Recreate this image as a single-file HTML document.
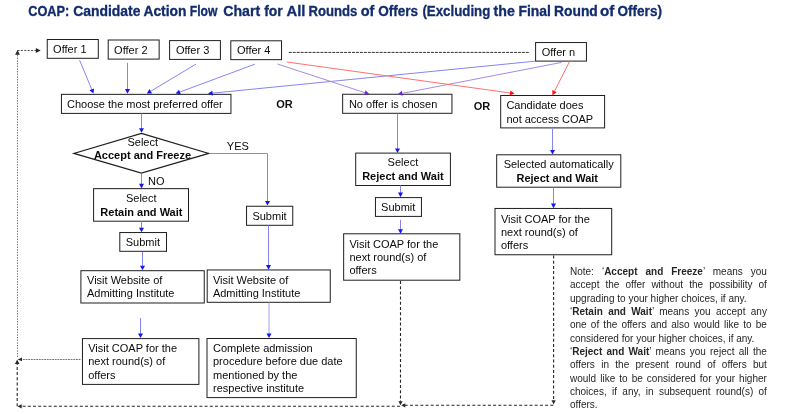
<!DOCTYPE html>
<html><head><meta charset="utf-8"><style>
html,body{margin:0;padding:0;background:#fff;}
body{width:800px;height:414px;overflow:hidden;position:relative;font-family:"Liberation Sans", sans-serif;}
svg{position:absolute;left:0;top:0;will-change:transform;}
svg text{font-family:"Liberation Sans", sans-serif;}
.nl{will-change:transform;position:absolute;left:570.4px;width:196.9px;font-size:10px;line-height:0;height:0;color:#262626;white-space:nowrap;}
.nl.j{text-align:justify;text-align-last:justify;white-space:normal;}
</style></head><body>
<svg width="800" height="414" viewBox="0 0 800 414">
<rect x="47.25" y="39.50" width="51.05" height="18.80" fill="#fff" stroke="#1e1e1e" stroke-width="1.0"/>
<text x="53.10" y="52.90" font-size="11" fill="#0a0a0a">Offer 1</text>
<rect x="108.20" y="40.00" width="50.95" height="19.10" fill="#fff" stroke="#1e1e1e" stroke-width="1.0"/>
<text x="114.10" y="54.05" font-size="11" fill="#0a0a0a">Offer 2</text>
<rect x="169.60" y="40.60" width="50.80" height="18.80" fill="#fff" stroke="#1e1e1e" stroke-width="1.0"/>
<text x="175.90" y="54.20" font-size="11" fill="#0a0a0a">Offer 3</text>
<rect x="230.80" y="40.80" width="50.75" height="18.85" fill="#fff" stroke="#1e1e1e" stroke-width="1.0"/>
<text x="237.00" y="54.40" font-size="11" fill="#0a0a0a">Offer 4</text>
<rect x="535.60" y="42.55" width="50.85" height="18.55" fill="#fff" stroke="#1e1e1e" stroke-width="1.0"/>
<text x="541.70" y="56.05" font-size="11" fill="#0a0a0a">Offer n</text>
<rect x="61.45" y="94.35" width="169.50" height="19.05" fill="#fff" stroke="#1e1e1e" stroke-width="1.0"/>
<text x="67.00" y="108.20" font-size="11" fill="#0a0a0a">Choose the most preferred offer</text>
<rect x="342.65" y="94.25" width="109.30" height="19.05" fill="#fff" stroke="#1e1e1e" stroke-width="1.0"/>
<text x="348.90" y="108.10" font-size="11" fill="#0a0a0a">No offer is chosen</text>
<rect x="500.70" y="95.50" width="103.90" height="32.40" fill="#fff" stroke="#1e1e1e" stroke-width="1.0"/>
<text x="506.40" y="109.00" font-size="11" fill="#0a0a0a">Candidate does</text>
<text x="506.40" y="122.60" font-size="11" fill="#0a0a0a">not access COAP</text>
<path d="M141.4,133.4 L208.8,153.4 L141.4,173.1 L73.8,153.4Z" fill="#fff" stroke="#1e1e1e" stroke-width="1.1"/>
<text x="142.75" y="146.30" font-size="11" text-anchor="middle" fill="#0a0a0a">Select</text>
<text x="142.50" y="159.30" font-size="11" font-weight="bold" text-anchor="middle" fill="#0a0a0a">Accept and Freeze</text>
<text x="226.80" y="150.30" font-size="11" fill="#0a0a0a">YES</text>
<text x="148.00" y="185.30" font-size="11" fill="#0a0a0a">NO</text>
<rect x="93.60" y="188.65" width="94.90" height="32.55" fill="#fff" stroke="#1e1e1e" stroke-width="1.0"/>
<text x="141.25" y="202.10" font-size="11" text-anchor="middle" fill="#0a0a0a">Select</text>
<text x="141.40" y="215.80" font-size="11" font-weight="bold" text-anchor="middle" fill="#0a0a0a">Retain and Wait</text>
<rect x="119.80" y="232.55" width="46.70" height="18.75" fill="#fff" stroke="#1e1e1e" stroke-width="1.0"/>
<text x="125.75" y="245.80" font-size="11" fill="#0a0a0a">Submit</text>
<rect x="246.55" y="206.25" width="46.20" height="19.05" fill="#fff" stroke="#1e1e1e" stroke-width="1.0"/>
<text x="252.40" y="220.00" font-size="11" fill="#0a0a0a">Submit</text>
<rect x="80.90" y="270.70" width="123.35" height="32.30" fill="#fff" stroke="#1e1e1e" stroke-width="1.0"/>
<text x="87.00" y="284.20" font-size="11" fill="#0a0a0a">Visit Website of</text>
<text x="87.00" y="297.10" font-size="11" fill="#0a0a0a">Admitting Institute</text>
<rect x="207.20" y="269.95" width="123.05" height="32.35" fill="#fff" stroke="#1e1e1e" stroke-width="1.0"/>
<text x="212.90" y="283.80" font-size="11" fill="#0a0a0a">Visit Website of</text>
<text x="212.90" y="296.80" font-size="11" fill="#0a0a0a">Admitting Institute</text>
<rect x="82.45" y="338.60" width="116.45" height="45.80" fill="#fff" stroke="#1e1e1e" stroke-width="1.0"/>
<text x="88.20" y="352.20" font-size="11" fill="#0a0a0a">Visit COAP for the</text>
<text x="88.20" y="365.40" font-size="11" fill="#0a0a0a">next round(s) of</text>
<text x="88.20" y="378.60" font-size="11" fill="#0a0a0a">offers</text>
<rect x="207.00" y="338.50" width="149.25" height="59.10" fill="#fff" stroke="#1e1e1e" stroke-width="1.0"/>
<text x="213.00" y="351.90" font-size="11" fill="#0a0a0a">Complete admission</text>
<text x="213.00" y="365.25" font-size="11" fill="#0a0a0a">procedure before due date</text>
<text x="213.00" y="378.60" font-size="11" fill="#0a0a0a">mentioned by the</text>
<text x="213.00" y="391.95" font-size="11" fill="#0a0a0a">respective institute</text>
<rect x="355.70" y="153.10" width="94.70" height="32.40" fill="#fff" stroke="#1e1e1e" stroke-width="1.0"/>
<text x="402.90" y="166.30" font-size="11" text-anchor="middle" fill="#0a0a0a">Select</text>
<text x="402.90" y="179.60" font-size="11" font-weight="bold" text-anchor="middle" fill="#0a0a0a">Reject and Wait</text>
<rect x="375.45" y="197.60" width="46.00" height="18.80" fill="#fff" stroke="#1e1e1e" stroke-width="1.0"/>
<text x="381.10" y="210.80" font-size="11" fill="#0a0a0a">Submit</text>
<rect x="343.65" y="233.80" width="116.20" height="46.40" fill="#fff" stroke="#1e1e1e" stroke-width="1.0"/>
<text x="349.40" y="248.10" font-size="11" fill="#0a0a0a">Visit COAP for the</text>
<text x="349.40" y="261.20" font-size="11" fill="#0a0a0a">next round(s) of</text>
<text x="349.40" y="274.00" font-size="11" fill="#0a0a0a">offers</text>
<rect x="496.70" y="154.80" width="124.10" height="32.40" fill="#fff" stroke="#1e1e1e" stroke-width="1.0"/>
<text x="558.70" y="168.20" font-size="11" text-anchor="middle" fill="#0a0a0a">Selected automatically</text>
<text x="557.25" y="181.50" font-size="11" font-weight="bold" text-anchor="middle" fill="#0a0a0a">Reject and Wait</text>
<rect x="495.00" y="208.45" width="116.70" height="46.30" fill="#fff" stroke="#1e1e1e" stroke-width="1.0"/>
<text x="500.90" y="222.60" font-size="11" fill="#0a0a0a">Visit COAP for the</text>
<text x="500.90" y="235.80" font-size="11" fill="#0a0a0a">next round(s) of</text>
<text x="500.90" y="249.00" font-size="11" fill="#0a0a0a">offers</text>
<text x="276.20" y="107.90" font-size="11" font-weight="bold" fill="#111">OR</text>
<text x="473.80" y="110.00" font-size="11" font-weight="bold" fill="#111">OR</text>
<path d="M79.60,60.25 L92.08,90.20" fill="none" stroke="#8585f0" stroke-width="1.0"/>
<path d="M93.50,93.60 L89.42,90.32 L94.04,88.39Z" fill="#1515ee"/>
<path d="M127.50,62.90 L127.50,90.02" fill="none" stroke="#8585f0" stroke-width="1.0"/>
<path d="M127.50,93.70 L125.00,89.10 L130.00,89.10Z" fill="#1515ee"/>
<path d="M196.00,64.10 L149.96,91.71" fill="none" stroke="#8585f0" stroke-width="1.0"/>
<path d="M146.80,93.60 L149.46,89.09 L152.03,93.38Z" fill="#1515ee"/>
<path d="M254.80,64.20 L179.05,92.32" fill="none" stroke="#8585f0" stroke-width="1.0"/>
<path d="M175.60,93.60 L179.04,89.66 L180.78,94.34Z" fill="#1515ee"/>
<path d="M535.00,61.20 L211.66,93.24" fill="none" stroke="#8585f0" stroke-width="1.0"/>
<path d="M208.00,93.60 L212.33,90.66 L212.82,95.63Z" fill="#1515ee"/>
<path d="M277.50,64.00 L365.70,92.95" fill="none" stroke="#a58ae6" stroke-width="1.0"/>
<path d="M369.20,94.10 L364.05,95.04 L365.61,90.29Z" fill="#6a2cc8"/>
<path d="M561.60,62.40 L401.41,93.50" fill="none" stroke="#a58ae6" stroke-width="1.0"/>
<path d="M397.80,94.20 L401.84,90.87 L402.79,95.78Z" fill="#6a2cc8"/>
<path d="M286.80,62.00 L510.95,93.09" fill="none" stroke="#ff7070" stroke-width="1.0"/>
<path d="M514.60,93.60 L509.70,95.44 L510.39,90.49Z" fill="#f01818"/>
<path d="M569.50,61.60 L554.07,92.02" fill="none" stroke="#ff7070" stroke-width="1.0"/>
<path d="M552.40,95.30 L552.25,90.07 L556.71,92.33Z" fill="#f01818"/>
<path d="M141.50,113.50 L141.50,129.12" fill="none" stroke="#8585f0" stroke-width="1.0"/>
<path d="M141.50,132.80 L139.00,128.20 L144.00,128.20Z" fill="#1515ee"/>
<path d="M141.50,173.70 L141.50,184.72" fill="none" stroke="#8585f0" stroke-width="1.0"/>
<path d="M141.50,188.40 L139.00,183.80 L144.00,183.80Z" fill="#1515ee"/>
<path d="M209.50,153.50 L267.50,153.50 L267.50,201.92" fill="none" stroke="#8585f0" stroke-width="1.0"/>
<path d="M267.50,205.60 L265.00,201.00 L270.00,201.00Z" fill="#1515ee"/>
<path d="M141.50,221.40 L141.50,228.62" fill="none" stroke="#8585f0" stroke-width="1.0"/>
<path d="M141.50,232.30 L139.00,227.70 L144.00,227.70Z" fill="#1515ee"/>
<path d="M142.50,252.00 L142.50,266.62" fill="none" stroke="#8585f0" stroke-width="1.0"/>
<path d="M142.50,270.30 L140.00,265.70 L145.00,265.70Z" fill="#1515ee"/>
<path d="M268.50,225.50 L268.50,266.02" fill="none" stroke="#8585f0" stroke-width="1.0"/>
<path d="M268.50,269.70 L266.00,265.10 L271.00,265.10Z" fill="#1515ee"/>
<path d="M140.50,318.00 L140.50,334.32" fill="none" stroke="#8585f0" stroke-width="1.0"/>
<path d="M140.50,338.00 L138.00,333.40 L143.00,333.40Z" fill="#1515ee"/>
<path d="M269.00,302.50 L269.00,334.32" fill="none" stroke="#a0a0f0" stroke-width="1.0"/>
<path d="M269.00,338.00 L266.50,333.40 L271.50,333.40Z" fill="#1515ee"/>
<path d="M397.50,113.50 L397.50,149.32" fill="none" stroke="#8585f0" stroke-width="1.0"/>
<path d="M397.50,153.00 L395.00,148.40 L400.00,148.40Z" fill="#1515ee"/>
<path d="M400.50,185.40 L400.50,193.52" fill="none" stroke="#8585f0" stroke-width="1.0"/>
<path d="M400.50,197.20 L398.00,192.60 L403.00,192.60Z" fill="#1515ee"/>
<path d="M400.50,219.80 L400.50,230.12" fill="none" stroke="#8585f0" stroke-width="1.0"/>
<path d="M400.50,233.80 L398.00,229.20 L403.00,229.20Z" fill="#1515ee"/>
<path d="M552.50,128.40 L552.50,150.92" fill="none" stroke="#8585f0" stroke-width="1.0"/>
<path d="M552.50,154.60 L550.00,150.00 L555.00,150.00Z" fill="#1515ee"/>
<path d="M553.50,187.40 L553.50,204.52" fill="none" stroke="#8585f0" stroke-width="1.0"/>
<path d="M553.50,208.20 L551.00,203.60 L556.00,203.60Z" fill="#1515ee"/>
<path d="M288.80,52.40 L528.90,52.40" fill="none" stroke="#333" stroke-width="1.0" stroke-dasharray="3 0.95"/>
<path d="M80.50,359.50 L21.00,359.50" fill="none" stroke="#666" stroke-width="0.9" stroke-dasharray="1.9 0.75"/>
<path d="M17.70,359.40 L22.00,357.60 L22.00,361.20Z" fill="#262626"/>
<path d="M17.50,357.00 L17.50,54.00" fill="none" stroke="#666" stroke-width="0.9" stroke-dasharray="1.4 1.26"/>
<path d="M17.50,50.00 L19.90,54.80 L15.10,54.80Z" fill="#262626"/>
<path d="M17.50,50.50 L36.00,50.50" fill="none" stroke="#333" stroke-width="0.9" stroke-dasharray="2 1.4"/>
<path d="M40.70,50.50 L35.80,52.90 L35.80,48.10Z" fill="#262626"/>
<path d="M553.60,255.50 L553.60,400.00" fill="none" stroke="#262626" stroke-width="1.1" stroke-dasharray="3 2.2"/>
<path d="M553.60,404.50 L551.50,400.30 L555.70,400.30Z" fill="#262626"/>
<path d="M400.50,281.00 L400.50,401.50" fill="none" stroke="#262626" stroke-width="1.1" stroke-dasharray="3 2.2"/>
<path d="M400.50,405.20 L398.40,401.20 L402.60,401.20Z" fill="#262626"/>
<path d="M553.30,405.30 L405.00,405.30" fill="none" stroke="#262626" stroke-width="1.1" stroke-dasharray="3 2.2"/>
<path d="M401.20,405.30 L405.30,403.20 L405.30,407.40Z" fill="#262626"/>
<path d="M400.00,406.30 L21.50,406.30" fill="none" stroke="#262626" stroke-width="1.1" stroke-dasharray="3 2.2"/>
<path d="M17.50,406.30 L21.70,404.20 L21.70,408.40Z" fill="#262626"/>
<path d="M17.20,406.30 L17.20,364.00" fill="none" stroke="#262626" stroke-width="1.1" stroke-dasharray="3 2.2"/>
<path d="M17.20,359.60 L19.45,364.10 L14.95,364.10Z" fill="#262626"/>
<text x="28.23" y="16" font-size="14" textLength="41.09" lengthAdjust="spacingAndGlyphs" font-weight="bold" fill="#122c6c" stroke="#122c6c" stroke-width="0.3">COAP:</text>
<text x="73.18" y="16" font-size="14" textLength="67.29" lengthAdjust="spacingAndGlyphs" font-weight="bold" fill="#122c6c" stroke="#122c6c" stroke-width="0.3">Candidate</text>
<text x="143.40" y="16" font-size="14" textLength="43.06" lengthAdjust="spacingAndGlyphs" font-weight="bold" fill="#122c6c" stroke="#122c6c" stroke-width="0.3">Action</text>
<text x="189.78" y="16" font-size="14" textLength="27.69" lengthAdjust="spacingAndGlyphs" font-weight="bold" fill="#122c6c" stroke="#122c6c" stroke-width="0.3">Flow</text>
<text x="223.17" y="16" font-size="14" textLength="37.00" lengthAdjust="spacingAndGlyphs" font-weight="bold" fill="#122c6c" stroke="#122c6c" stroke-width="0.3">Chart</text>
<text x="264.16" y="16" font-size="14" textLength="18.55" lengthAdjust="spacingAndGlyphs" font-weight="bold" fill="#122c6c" stroke="#122c6c" stroke-width="0.3">for</text>
<text x="286.53" y="16" font-size="14" textLength="18.92" lengthAdjust="spacingAndGlyphs" font-weight="bold" fill="#122c6c" stroke="#122c6c" stroke-width="0.3">All</text>
<text x="308.52" y="16" font-size="14" textLength="48.92" lengthAdjust="spacingAndGlyphs" font-weight="bold" fill="#122c6c" stroke="#122c6c" stroke-width="0.3">Rounds</text>
<text x="360.68" y="16" font-size="14" textLength="13.69" lengthAdjust="spacingAndGlyphs" font-weight="bold" fill="#122c6c" stroke="#122c6c" stroke-width="0.3">of</text>
<text x="378.20" y="16" font-size="14" textLength="39.86" lengthAdjust="spacingAndGlyphs" font-weight="bold" fill="#122c6c" stroke="#122c6c" stroke-width="0.3">Offers</text>
<text x="422.44" y="16" font-size="14" textLength="67.85" lengthAdjust="spacingAndGlyphs" font-weight="bold" fill="#122c6c" stroke="#122c6c" stroke-width="0.3">(Excluding</text>
<text x="493.58" y="16" font-size="14" textLength="21.31" lengthAdjust="spacingAndGlyphs" font-weight="bold" fill="#122c6c" stroke="#122c6c" stroke-width="0.3">the</text>
<text x="518.46" y="16" font-size="14" textLength="32.52" lengthAdjust="spacingAndGlyphs" font-weight="bold" fill="#122c6c" stroke="#122c6c" stroke-width="0.3">Final</text>
<text x="554.07" y="16" font-size="14" textLength="43.73" lengthAdjust="spacingAndGlyphs" font-weight="bold" fill="#122c6c" stroke="#122c6c" stroke-width="0.3">Round</text>
<text x="600.00" y="16" font-size="14" textLength="14.37" lengthAdjust="spacingAndGlyphs" font-weight="bold" fill="#122c6c" stroke="#122c6c" stroke-width="0.3">of</text>
<text x="617.55" y="16" font-size="14" textLength="44.38" lengthAdjust="spacingAndGlyphs" font-weight="bold" fill="#122c6c" stroke="#122c6c" stroke-width="0.3">Offers)</text>
</svg>
<div class="nl j" style="top:272.04px">Note: &#8216;<b>Accept and Freeze</b>&#8217; means you</div>
<div class="nl j" style="top:285.36px">accept the offer without the possibility of</div>
<div class="nl l" style="top:298.68px">upgrading to your higher choices, if any.</div>
<div class="nl j" style="top:312.00px">&#8216;<b>Retain and Wait</b>&#8217; means you accept any</div>
<div class="nl j" style="top:325.31px">one of the offers and also would like to be</div>
<div class="nl l" style="top:338.64px">considered for your higher choices, if any.</div>
<div class="nl j" style="top:351.96px">&#8216;<b>Reject and Wait</b>&#8217; means you reject all the</div>
<div class="nl j" style="top:365.28px">offers in the present round of offers but</div>
<div class="nl j" style="top:378.60px">would like to be considered for your higher</div>
<div class="nl j" style="top:391.92px">choices, if any, in subsequent round(s) of</div>
<div class="nl l" style="top:405.24px">offers.</div>
</body></html>
